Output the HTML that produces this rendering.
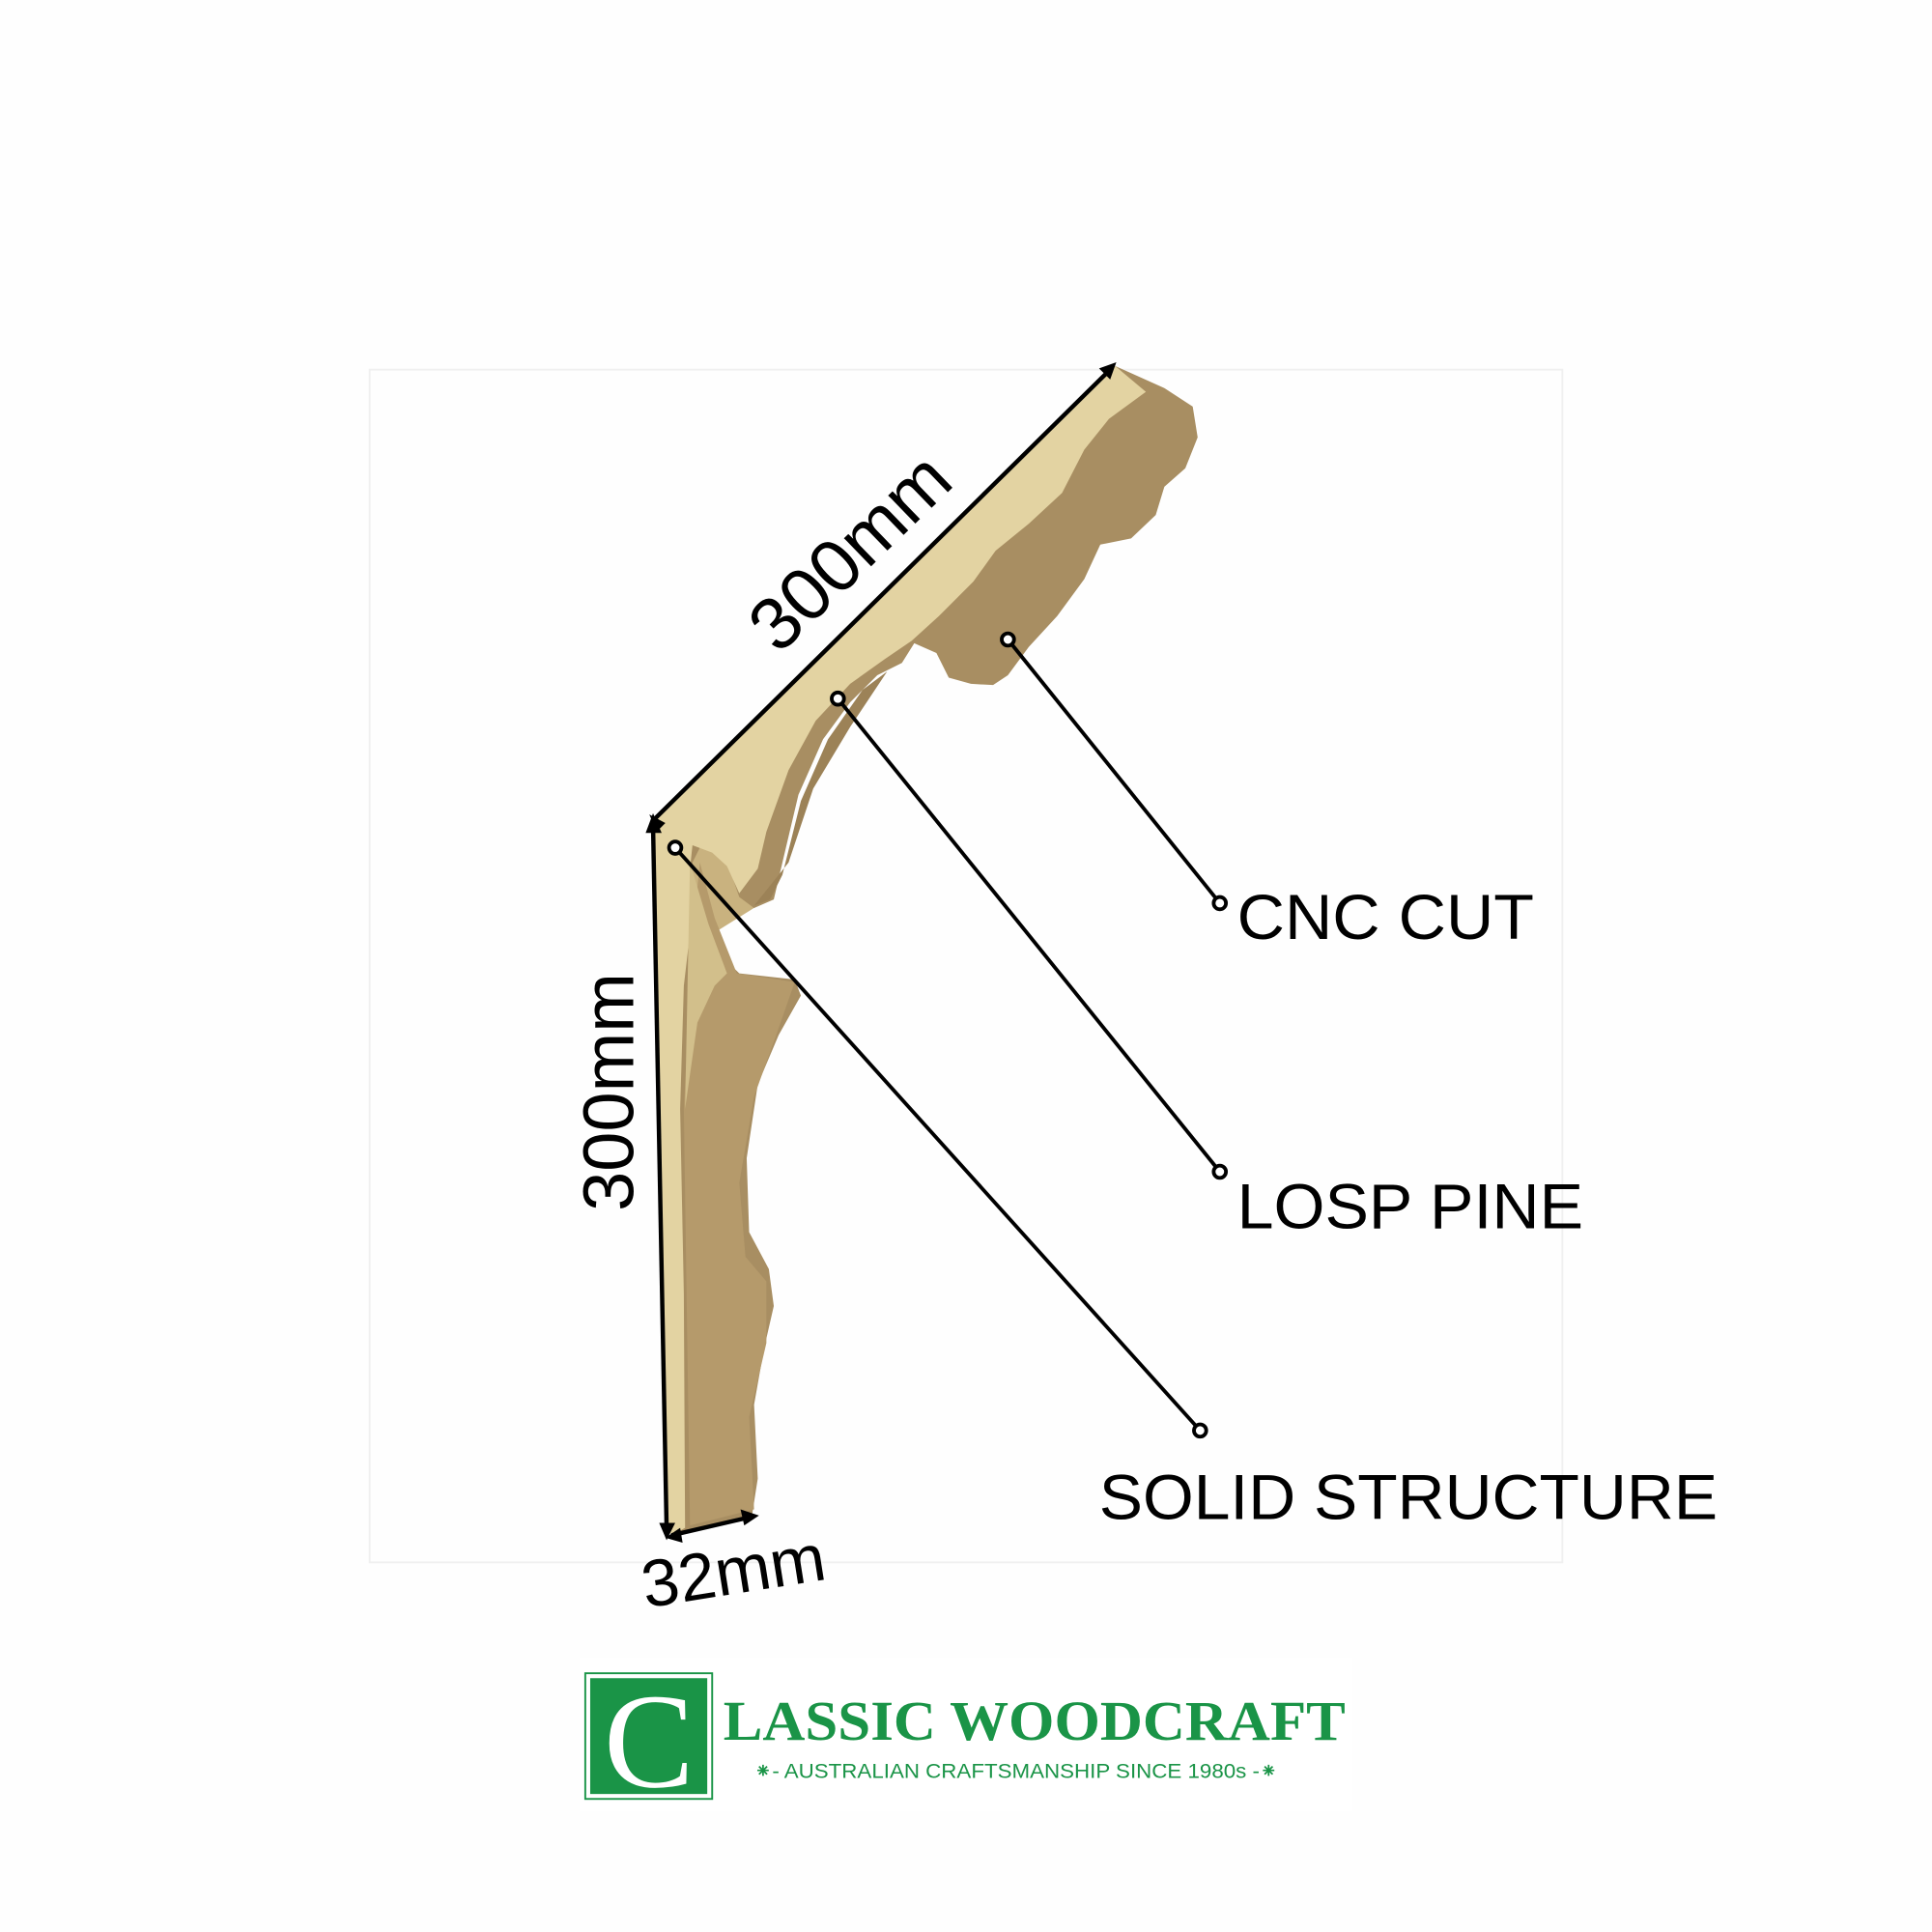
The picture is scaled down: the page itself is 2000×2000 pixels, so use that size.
<!DOCTYPE html>
<html><head><meta charset="utf-8"><style>
html,body{margin:0;padding:0;background:#fff;}
svg{display:block}
</style></head><body>
<svg width="2000" height="2000" viewBox="0 0 1568 1568" xmlns="http://www.w3.org/2000/svg">
<rect width="1568" height="1568" fill="#fefefe"/>
<rect x="300" y="300" width="968" height="968" fill="none" stroke="#f0f0f0" stroke-width="1.5"/>
<path d="M556,684 L600,690 L615,735 L575,760 L556,730 Z" fill="#c9b27f"/>
<!-- wood dark body -->
<path d="M530,666 L905,297 L945,315 L968,330 L972,355 L962,380 L945,395 L938,418 L918,437 L893,442 L880,470 L858,500 L835,525 L818,548 L806,556 L788,555 L770,550 L760,530 L742,522 L732,538 L712,548 L690,570 L668,600 L648,645 L635,700 L628,730 L612,737 L600,728 L592,705 L582,692 L568,688 L562,700 L560,722 L576,752 L582,772 L600,790 L645,795 L650,808 L632,840 L615,880 L606,940 L608,1000 L624,1030 L628,1060 L620,1095 L612,1140 L615,1200 L610,1232 L547,1245 L540,1244 Z" fill="#a88e62"/>
<path d="M568,700 L580,745 L598,790 L645,797 L630,840 L612,890 L600,960 L605,1020 L622,1040 L622,1090 L608,1150 L612,1225 L560,1238 L555,900 L562,760 Z" fill="#b59a6b"/>
<path d="M720,545 L700,560 L672,600 L650,650 L635,710 L625,730 L612,735 L640,700 L660,640 L690,590 Z" fill="#9c8257"/>
<!-- light front faces -->
<path d="M530,666 L905,297 L930,318 L900,340 L880,365 L862,400 L835,425 L808,447 L790,472 L762,500 L740,520 L718,535 L690,555 L662,585 L640,625 L622,675 L615,705 L600,725 L590,703 L578,692 L562,686 L560,705 L562,740 L555,800 L552,900 L555,1050 L556,1240 L547,1245 L540,1244 Z" fill="#e3d3a2"/>
<path d="M560,700 L575,750 L590,790 L580,800 L566,830 L556,900 Z" fill="#d2bf8b"/>
<!-- dimension arrows -->
<g stroke="#000" stroke-width="3.5" fill="none">
<line x1="532" y1="664" x2="902" y2="299"/>
<line x1="530" y1="670" x2="541" y2="1240"/>
<line x1="545" y1="1246" x2="610" y2="1231"/>
</g>
<g fill="#000">
<polygon points="906,294 892,299 901,308"/>
<polygon points="527,661 533,675 540,668"/>
<polygon points="530,660 524,676 537,676"/>
<polygon points="541,1250 535,1236 548,1236"/>
<polygon points="540,1248 552,1240 554,1252"/>
<polygon points="616,1230 601,1225 604,1238"/>
</g>
<!-- leader lines -->
<g stroke="#000" stroke-width="3" fill="#fff">
<line x1="818" y1="519" x2="990" y2="733"/>
<line x1="680" y1="567" x2="990" y2="951"/>
<line x1="548" y1="688" x2="974" y2="1161"/>
<circle cx="818" cy="519" r="5"/>
<circle cx="990" cy="733" r="5"/>
<circle cx="680" cy="567" r="5"/>
<circle cx="990" cy="951" r="5"/>
<circle cx="548" cy="688" r="5"/>
<circle cx="974" cy="1161" r="5"/>
</g>
<g font-family="'Liberation Sans', 'DejaVu Sans', sans-serif" fill="#000">
<text x="1004" y="762" font-size="52" textLength="241" lengthAdjust="spacingAndGlyphs">CNC CUT</text>
<text x="1004" y="997" font-size="52" textLength="281" lengthAdjust="spacingAndGlyphs">LOSP PINE</text>
<text x="892" y="1233" font-size="52" textLength="502" lengthAdjust="spacingAndGlyphs">SOLID STRUCTURE</text>
<text transform="translate(632,532) rotate(-44)" font-size="60">300mm</text>
<text transform="translate(514,983) rotate(-90)" font-size="58">300mm</text>
<text transform="translate(524,1305) rotate(-9)" font-size="54">32mm</text>
</g>
<!-- logo -->
<rect x="470" y="1345" width="628" height="125" fill="#fff"/>
<rect x="475" y="1358" width="103" height="102" fill="none" stroke="#1a9447" stroke-width="1.5"/>
<rect x="479" y="1362" width="95" height="94" fill="#1a9447"/>
<text x="490" y="1450" font-family="'Liberation Serif', serif" font-size="110" fill="#fff">C</text>
<text x="587" y="1412" font-family="'Liberation Serif', serif" font-size="46" font-weight="bold" fill="#1a9447" textLength="505" lengthAdjust="spacingAndGlyphs">LASSIC WOODCRAFT</text>
<text x="612" y="1443" font-family="'Liberation Sans', sans-serif" font-size="17" fill="#1a9447" textLength="425" lengthAdjust="spacingAndGlyphs">⁕- AUSTRALIAN CRAFTSMANSHIP SINCE 1980s -⁕</text>
</svg>
</body></html>
